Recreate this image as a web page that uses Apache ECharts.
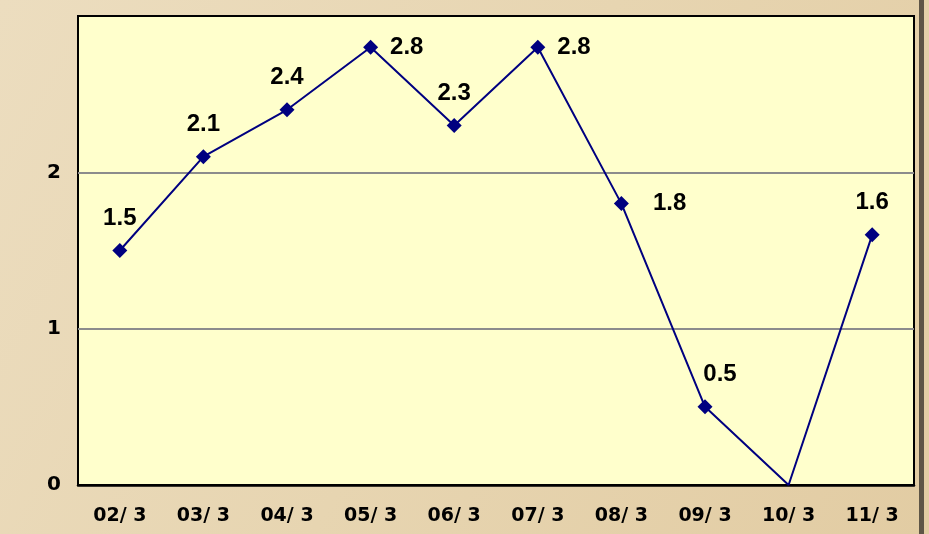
<!DOCTYPE html>
<html>
<head>
<meta charset="utf-8">
<script src="https://cdn.jsdelivr.net/npm/echarts@6/dist/echarts.min.js"></script>
<style>
  html, body { margin: 0; padding: 0; }
  #chart { width: 929px; height: 534px; }
</style>
</head>
<body>
<div id="chart"></div>
<script>
// data
const months = ['02/3', '03/3', '04/3', '05/3', '06/3', '07/3', '08/3', '09/3', '10/3', '11/3']
const values = [1.5, 2.1, 2.4, 2.8, 2.3, 2.8, 1.8, 0.5, 0, 1.6]
const yTicks = [0, 1, 2, 3]

// label placement tweaks (index -> setting)
const rightLabels = { 3: 12, 5: 12, 6: 24 }
const labelOffsets = { 7: [15, 0] }

const chart = echarts.init(document.getElementById('chart'))

const seriesData = values.map((v, i) => {
  if (v === 0) {
    // the 10/3 point has no marker and no label
    return { value: v, symbol: 'none', label: { show: false } }
  }
  const label = {}
  if (rightLabels[i] !== undefined) {
    label.position = 'right'
    label.distance = rightLabels[i]
  }
  if (labelOffsets[i]) label.offset = labelOffsets[i]
  return { value: v, label }
})

chart.setOption({
  backgroundColor: {
    type: 'linear', x: 0, y: 0, x2: 1, y2: 1,
    colorStops: [
      { offset: 0, color: '#ECDDBF' },
      { offset: 0.5, color: '#E7D5B1' },
      { offset: 1, color: '#E2CCA3' }
    ]
  },
  animation: false,
  graphic: [{
    type: 'rect',
    shape: { x: 919, y: 0, width: 5, height: 534 },
    style: { fill: '#5E5546' },
    silent: true
  }],
  grid: {
    left: 78,
    right: 15,
    top: 16,
    bottom: 49,
    show: true,
    backgroundColor: '#FFFFCC',
    borderColor: '#000',
    borderWidth: 2
  },
  xAxis: {
    type: 'category',
    data: months,
    boundaryGap: true,
    axisLine: { lineStyle: { color: '#000', width: 2.5 } },
    axisTick: { inside: true, length: 6, lineStyle: { color: '#000', width: 2 } },
    axisLabel: {
      color: '#000',
      fontFamily: 'DejaVu Sans',
      fontSize: 19,
      fontWeight: 'bold',
      margin: 22,
      formatter: v => v.replace('/', '/ ')
    }
  },
  yAxis: {
    type: 'value',
    min: yTicks[0],
    max: yTicks[yTicks.length - 1],
    interval: 1,
    axisLine: { show: false },
    axisTick: { show: false },
    axisLabel: {
      color: '#000',
      fontFamily: 'DejaVu Sans',
      fontSize: 20,
      fontWeight: 'bold',
      margin: 17,
      showMaxLabel: false
    },
    splitLine: {
      show: true,
      showMinLine: false,
      showMaxLine: false,
      lineStyle: { color: '#8C8C8C', width: 2 }
    }
  },
  series: [{
    type: 'line',
    data: seriesData,
    symbol: 'diamond',
    symbolSize: 15,
    itemStyle: { color: '#000080' },
    lineStyle: { color: '#000080', width: 2 },
    label: {
      show: true,
      position: 'top',
      color: '#000',
      fontFamily: 'Liberation Sans',
      fontSize: 24,
      fontWeight: 'bold',
      distance: 13
    }
  }]
})
</script>
</body>
</html>
